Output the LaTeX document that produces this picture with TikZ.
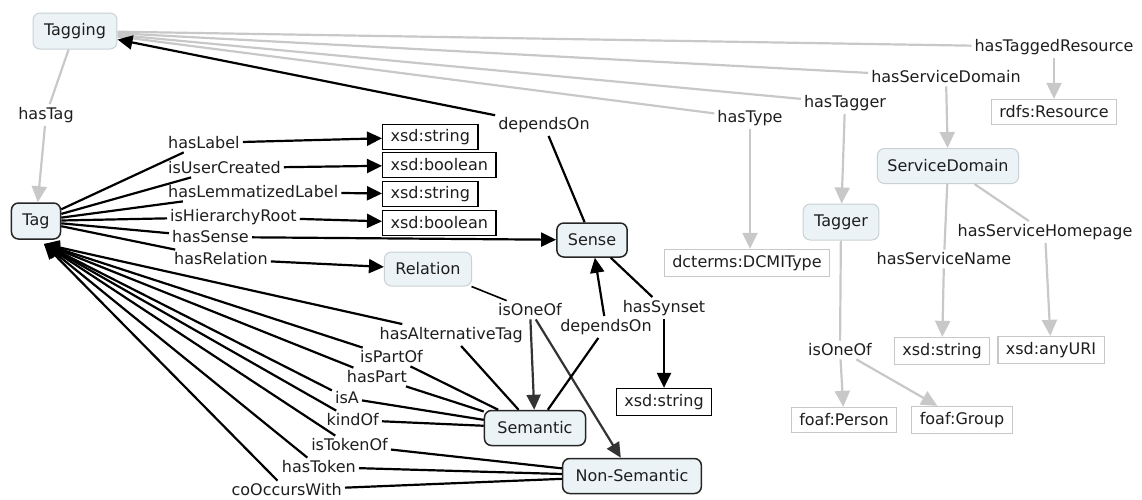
\documentclass[tikz,border=0pt]{standalone}
\usepackage{fontspec}
\setmainfont{DejaVu Sans}
\usetikzlibrary{arrows.meta}
\definecolor{cfill}{HTML}{EBF3F6}
\definecolor{cline}{HTML}{C8C8C8}
\definecolor{cborder}{HTML}{C9D1D5}
\definecolor{txt}{HTML}{1E1E1E}
\definecolor{dk}{HTML}{333333}
\begin{document}
\begin{tikzpicture}[x=1pt,y=-1pt,font=\fontsize{16}{19}\selectfont,text=txt,
 concept/.style={draw=cborder,fill=cfill,rounded corners=7pt,inner xsep=11pt,inner ysep=0pt,minimum height=36pt,line width=1pt},
 dconcept/.style={concept,draw=black!85,line width=1.5pt},
 lit/.style={draw=black,fill=white,line width=1.3pt,inner xsep=8pt,inner ysep=0pt,minimum height=25pt},
 glit/.style={lit,draw=cline},
 lab/.style={inner sep=3pt},
 bl/.style={draw=black,line width=2.2pt},
 gl/.style={draw=cline,line width=2.2pt},
 barr/.style={bl,-{Triangle[length=15pt,width=14pt]}},
 garr/.style={gl,-{Triangle[length=16pt,width=15pt]}},
 darr/.style={draw=dk,line width=2.2pt,-{Triangle[length=15pt,width=14pt]}},
]
\useasboundingbox (0,0) rectangle (1142,499);
% concepts
\node[concept] (tagging) at (75,31) {Tagging};
\node[dconcept] (tag) at (36,221) {Tag};
\node[dconcept,minimum height=34pt] (sense) at (592,240) {Sense};
\node[concept,minimum height=34pt] (relation) at (428,269) {Relation};
\node[dconcept,minimum height=35pt,inner xsep=13pt] (semantic) at (535,428) {Semantic};
\node[dconcept,minimum height=35pt,inner xsep=13pt] (nonsem) at (632,476) {Non-Semantic};
\node[concept] (tagger) at (841,222) {Tagger};
\node[concept,minimum height=35pt,inner xsep=10pt] (sd) at (948,166) {ServiceDomain};
% literals
\node[lit,anchor=west] (s1) at (382,137) {xsd:string};
\node[lit,anchor=west] (b1) at (382,165) {xsd:boolean};
\node[lit,anchor=west] (s2) at (382,194) {xsd:string};
\node[lit,anchor=west] (b2) at (382,223) {xsd:boolean};
\node[lit,minimum height=27pt] (syn) at (664,402) {xsd:string};
\node[glit,minimum height=27pt] (dc) at (747,263) {dcterms:DCMIType};
\node[glit] (rdfs) at (1054,112) {rdfs:Resource};
\node[glit,minimum height=27pt] (sstr) at (942,351) {xsd:string};
\node[glit,minimum height=27pt] (uri) at (1051,350) {xsd:anyURI};
\node[glit] (person) at (844,420) {foaf:Person};
\node[glit,minimum height=27pt] (group) at (962,420) {foaf:Group};
% labels
\node[lab] (hasTag) at (46,115) {hasTag};
\node[lab,anchor=west] (hasLabel) at (165,143) {hasLabel};
\node[lab,anchor=west] (isUserCreated) at (165,168) {isUserCreated};
\node[lab,anchor=west] (hasLemm) at (165,192) {hasLemmatizedLabel};
\node[lab,anchor=west] (isHier) at (167,217) {isHierarchyRoot};
\node[lab,anchor=west] (hasSense) at (169,237) {hasSense};
\node[lab,anchor=west] (hasRelation) at (171,259) {hasRelation};
\node[lab] (dep1) at (544,125) {dependsOn};
\node[lab] (hasType) at (750,118) {hasType};
\node[lab] (hasTagger) at (845,103) {hasTagger};
\node[lab] (hsd) at (946,77) {hasServiceDomain};
\node[lab] (htr) at (1054,47) {hasTaggedResource};
\node[lab] (hsh) at (1045,232) {hasServiceHomepage};
\node[lab] (hsn) at (944,259) {hasServiceName};
\node[lab] (one2) at (840,350) {isOneOf};
\node[lab] (one1) at (530,310) {isOneOf};
\node[lab] (dep2) at (606,327) {dependsOn};
\node[lab] (hasSynset) at (664,308) {hasSynset};
\node[lab,anchor=east] (hat) at (526,335) {hasAlternativeTag};
\node[lab,anchor=east] (isPartOf) at (426,357) {isPartOf};
\node[lab,anchor=east] (hasPart) at (410,377) {hasPart};
\node[lab,anchor=east] (isA) at (362,398) {isA};
\node[lab,anchor=east] (kindOf) at (382,420) {kindOf};
\node[lab,anchor=east] (isTokenOf) at (391,445) {isTokenOf};
\node[lab,anchor=east] (hasToken) at (359,467) {hasToken};
\node[lab,anchor=east] (coOcc) at (345,490) {coOccursWith};
\coordinate (tagin) at (44,244);
% gray connectors
\draw[gl] (tagging) -- (hasTag);
\draw[garr] (hasTag) -- (tag);
\draw[gl] (tagging) -- (htr);
\draw[garr] (htr) -- (rdfs);
\draw[gl] (tagging) -- (hsd);
\draw[garr] (hsd) -- (sd);
\draw[gl] (tagging) -- (hasTagger);
\draw[garr] (hasTagger) -- (tagger);
\draw[gl] (tagging) -- (hasType);
\draw[garr] (hasType.south) -- (hasType.south |- dc.north);
\draw[gl] (sd) -- (hsn);
\draw[garr] (hsn) -- (sstr);
\draw[gl] (sd) -- (hsh);
\draw[garr] (hsh) -- (uri);
\draw[gl] (tagger) -- (one2);
\draw[garr] (one2) -- (person);
\draw[garr] (one2) -- (group);
% black connectors from Tag
\foreach \l/\t in {hasLabel/s1,isUserCreated/b1,hasLemm/s2,isHier/b2,hasSense/sense,hasRelation/relation}{
  \draw[bl] (tag) -- (\l);
  \draw[barr] (\l) -- (\t);
}
\draw[bl] (sense) -- (dep1);
\draw[barr] (dep1) -- (tagging);
\draw[bl] (sense) -- (hasSynset);
\draw[barr] (hasSynset) -- (syn);
\draw[bl,line width=1.6pt] (relation) -- (one1);
\draw[darr] (one1) -- (semantic);
\draw[darr] (one1) -- (nonsem);
\draw[bl] (semantic) -- (dep2);
\draw[barr] (dep2) -- (sense);
\foreach \l in {hat,isPartOf,hasPart,isA,kindOf}{
  \draw[bl] (semantic) -- (\l);
  \draw[barr] (\l) -- (tagin);
}
\foreach \l in {isTokenOf,hasToken,coOcc}{
  \draw[bl] (nonsem) -- (\l);
  \draw[barr] (\l) -- (tagin);
}
\end{tikzpicture}
\end{document}
